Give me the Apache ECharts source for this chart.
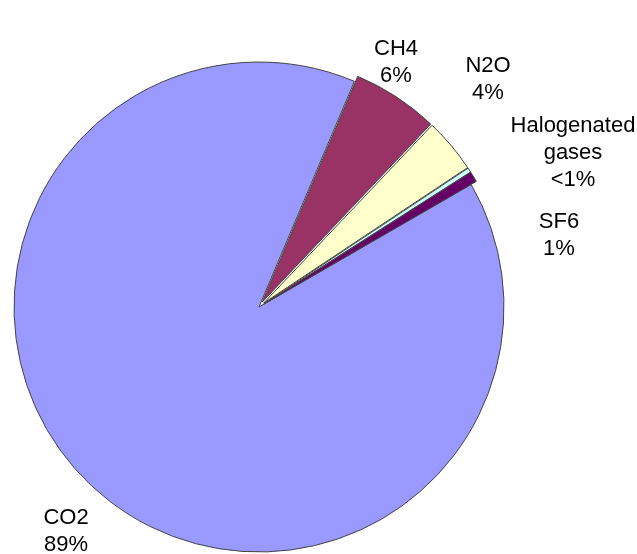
<!DOCTYPE html>
<html>
<head>
<meta charset="utf-8">
<script src="https://cdn.jsdelivr.net/npm/echarts@6/dist/echarts.min.js"></script>
<style>
  html, body { margin: 0; padding: 0; background: #fff; }
  #chart { width: 637px; height: 554px; }
</style>
</head>
<body>
<div id="chart"></div>
<script>
// gas names and their share of total emissions (%)
var gases = ['CO2', 'CH4', 'N2O', 'Halogenated\ngases', 'SF6'];
var shares = [89.7, 5.7, 3.6, 0.3, 0.7];
var shareLabels = ['89%', '6%', '4%', '<1%', '1%'];
var colors = ['#9999ff', '#993366', '#ffffcc', '#ccffff', '#660066'];
var exploded = [false, true, true, true, true];

// where each label sits (text centre)
var labelSpots = [[66, 531], [396, 62], [488, 79], [573, 153], [559, 235]];

var pieData = [];
var labelTexts = [];
for (var i = 0; i < gases.length; i++) {
    pieData.push({
        name: gases[i],
        value: shares[i],
        selected: exploded[i],
        itemStyle: { color: colors[i] }
    });
    labelTexts.push({
        type: 'text',
        x: labelSpots[i][0],
        y: labelSpots[i][1],
        style: {
            text: gases[i] + '\n' + shareLabels[i],
            fill: '#000',
            font: '22px "Liberation Sans", Arial, sans-serif',
            lineHeight: 27,
            align: 'center',
            verticalAlign: 'middle'
        }
    });
}

var myChart = echarts.init(document.getElementById('chart'));
myChart.setOption({
    animation: false,
    graphic: labelTexts,
    series: [{
        type: 'pie',
        center: [259, 307],
        radius: 245,
        startAngle: 30,
        clockwise: true,
        selectedMode: 'multiple',
        selectedOffset: 6,
        itemStyle: {
            borderColor: '#444',
            borderWidth: 1
        },
        label: { show: false },
        labelLine: { show: false },
        emphasis: { disabled: true },
        select: { itemStyle: { borderColor: '#444', borderWidth: 1 } },
        data: pieData
    }]
});
</script>
</body>
</html>
